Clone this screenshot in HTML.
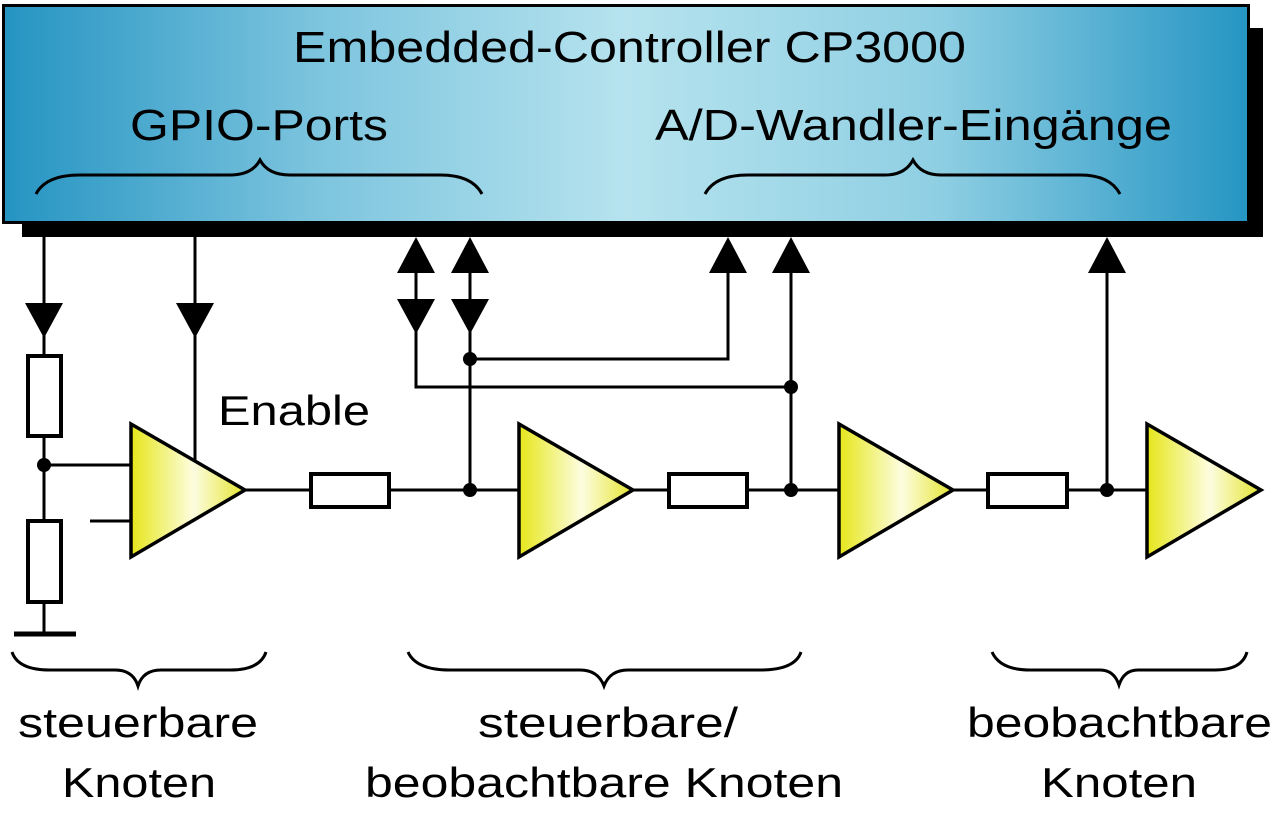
<!DOCTYPE html>
<html><head><meta charset="utf-8"><style>html,body{margin:0;padding:0;background:#fff}svg{display:block}</style></head><body>
<svg width="1280" height="819" viewBox="0 0 1280 819" xmlns="http://www.w3.org/2000/svg" font-family="Liberation Sans, Arial, sans-serif">
<defs>
<linearGradient id="bg" x1="0" y1="0" x2="1" y2="0">
<stop offset="0" stop-color="#2594c2"/><stop offset="0.25" stop-color="#7cc4de"/><stop offset="0.5" stop-color="#b6e3ee"/><stop offset="0.75" stop-color="#8fcfe3"/><stop offset="1" stop-color="#2595c3"/>
</linearGradient>
<linearGradient id="yg" x1="0" y1="0" x2="1" y2="0">
<stop offset="0" stop-color="#e6e61a"/><stop offset="0.55" stop-color="#fdfde0"/><stop offset="1" stop-color="#e4e430"/>
</linearGradient>
</defs>
<!-- box -->
<rect x="22" y="28" width="1241" height="209" fill="#000"/>
<rect x="3.5" y="5.5" width="1245" height="217" fill="url(#bg)" stroke="#000" stroke-width="3"/>
<text x="293" y="62" font-size="44" textLength="673" lengthAdjust="spacingAndGlyphs">Embedded-Controller CP3000</text>
<text x="130" y="140" font-size="44" textLength="258" lengthAdjust="spacingAndGlyphs">GPIO-Ports</text>
<text x="655" y="140" font-size="44" textLength="517" lengthAdjust="spacingAndGlyphs">A/D-Wandler-Eingänge</text>
<g fill="none" stroke="#000" stroke-width="3">
<path d="M36,194 Q46,175 80,175 L230,175 Q252,175 260,160 Q268,175 290,175 L440,175 Q472,175 482,194"/>
<path d="M705,194 Q715,175 748,175 L885,175 Q905,175 913,160 Q921,175 941,175 L1080,175 Q1110,175 1120,194"/>
<!-- bottom braces -->
<path d="M12,652 Q18,670 50,670 L115,670 Q133,670 138,686 Q143,670 161,670 L230,670 Q260,670 266,652"/>
<path d="M408,652 Q416,670 450,670 L580,670 Q598,670 604,686 Q610,670 628,670 L760,670 Q795,670 801,652"/>
<path d="M992,652 Q1000,670 1030,670 L1100,670 Q1114,670 1119,685 Q1124,670 1138,670 L1215,670 Q1242,670 1247,652"/>
</g>
<!-- wires -->
<g fill="none" stroke="#000" stroke-width="3">
<path d="M44,237 V355 M44,437 V520 M44,603 V634"/>
<path d="M14,634 H76" stroke-width="5"/>
<path d="M44,465 H130 M90,521 H130"/>
<path d="M195,237 V462"/>
<path d="M245,490 H310 M390,490 H518 M633,490 H668 M748,490 H838 M953,490 H988 M1068,490 H1146"/>
<path d="M416,273 V387 H791 M470,273 V490 M470,359 H728 V273 M791,273 V490 M1107,273 V490"/>
</g>
<!-- resistors -->
<g fill="#fff" stroke="#000" stroke-width="4">
<rect x="28" y="356" width="33" height="80"/>
<rect x="28" y="521" width="33" height="81"/>
<rect x="311" y="474" width="78" height="33"/>
<rect x="669" y="474" width="78" height="33"/>
<rect x="988" y="474" width="79" height="33"/>
</g>
<!-- amps -->
<g fill="url(#yg)" stroke="#000" stroke-width="3.5">
<path d="M131,424 L245,490 L131,557 Z"/>
<path d="M519,424 L633,490 L519,557 Z"/>
<path d="M839,424 L953,490 L839,557 Z"/>
<path d="M1147,424 L1261,490 L1147,557 Z"/>
</g>
<!-- arrows -->
<g fill="#000">
<path d="M25,303 L63,303 L44,338 Z"/>
<path d="M176,303 L214,303 L195,338 Z"/>
<path d="M416,237 L397,273 L435,273 Z"/>
<path d="M397,299 L435,299 L416,334 Z"/>
<path d="M470,237 L451,273 L489,273 Z"/>
<path d="M451,299 L489,299 L470,334 Z"/>
<path d="M728,237 L709,273 L747,273 Z"/>
<path d="M791,237 L772,273 L810,273 Z"/>
<path d="M1107,237 L1088,273 L1126,273 Z"/>
<circle cx="44" cy="465" r="7"/>
<circle cx="470" cy="359" r="7"/>
<circle cx="791" cy="387" r="7"/>
<circle cx="470" cy="490" r="7"/>
<circle cx="791" cy="490" r="7"/>
<circle cx="1107" cy="490" r="7"/>
</g>
<text x="218" y="425" font-size="42" textLength="152" lengthAdjust="spacingAndGlyphs">Enable</text>
<g font-size="42">
<text x="18" y="737" textLength="240" lengthAdjust="spacingAndGlyphs">steuerbare</text>
<text x="62" y="797" textLength="154" lengthAdjust="spacingAndGlyphs">Knoten</text>
<text x="478" y="737" textLength="260" lengthAdjust="spacingAndGlyphs">steuerbare/</text>
<text x="365" y="797" textLength="478" lengthAdjust="spacingAndGlyphs">beobachtbare Knoten</text>
<text x="967" y="737" textLength="305" lengthAdjust="spacingAndGlyphs">beobachtbare</text>
<text x="1041" y="797" textLength="156" lengthAdjust="spacingAndGlyphs">Knoten</text>
</g>
</svg>
</body></html>
